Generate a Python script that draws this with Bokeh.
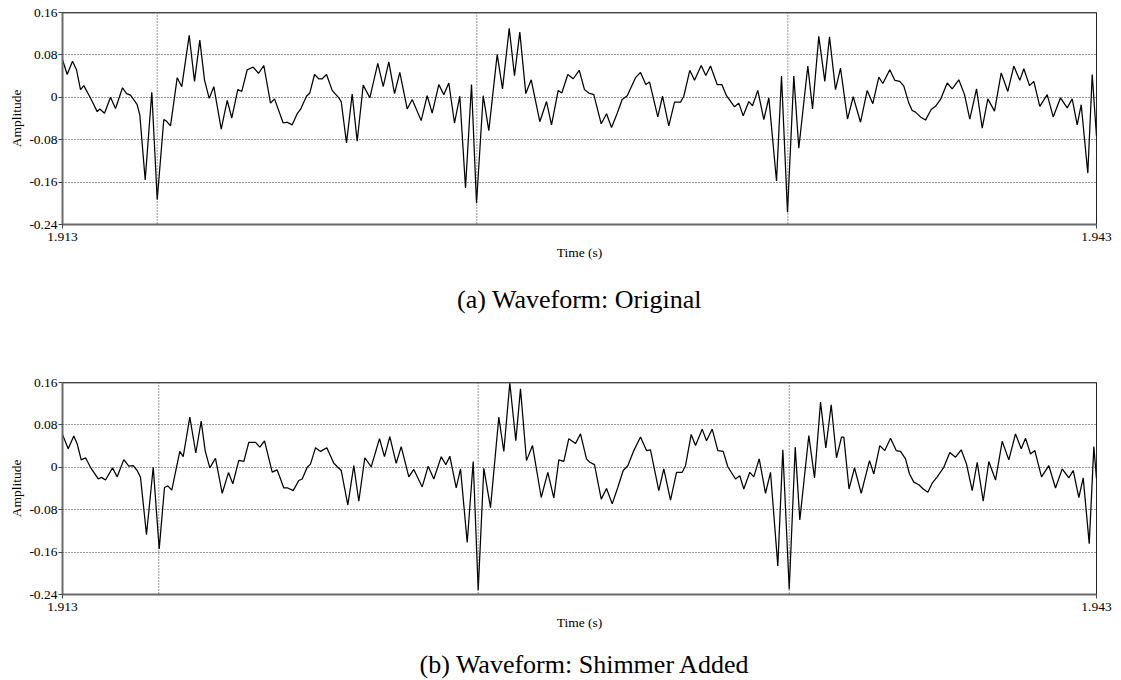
from bokeh.plotting import figure
from bokeh.models import Range1d, FixedTicker, Span, Title, Div
from bokeh.layouts import column
from bokeh.embed import file_html
from bokeh.resources import INLINE

# ---- data: time offsets in ms after 1.913 s, amplitudes ----
t_start = 1.913
t_end = 1.943

orig_ms = [
    0.000, 0.136, 0.290, 0.406, 0.522, 0.618, 0.734, 0.862, 1.007, 1.082,
    1.219, 1.393, 1.538, 1.741, 1.857, 1.973, 2.167, 2.243, 2.399, 2.591,
    2.748, 2.939, 3.017, 3.134, 3.328, 3.461, 3.676, 3.830, 3.984, 4.120,
    4.256, 4.390, 4.605, 4.779, 4.912, 5.086, 5.202, 5.359, 5.533, 5.687,
    5.841, 6.035, 6.151, 6.403, 6.519, 6.665, 6.810, 6.905, 7.079, 7.175,
    7.312, 7.436, 7.535, 7.660, 7.825, 8.017, 8.086, 8.240, 8.405, 8.550,
    8.725, 8.916, 9.148, 9.305, 9.467, 9.633, 9.787, 10.001, 10.146, 10.407,
    10.581, 10.726, 10.918, 11.063, 11.208, 11.373, 11.527, 11.693, 11.867, 12.012,
    12.206, 12.369, 12.612, 12.766, 12.961, 13.114, 13.268, 13.442, 13.599, 13.848,
    14.043, 14.188, 14.382, 14.487, 14.661, 14.818, 14.992, 15.145, 15.270, 15.415,
    15.630, 15.784, 15.929, 16.094, 16.239, 16.384, 16.625, 16.770, 16.924, 17.031,
    17.272, 17.408, 17.591, 17.757, 17.931, 18.026, 18.200, 18.337, 18.531, 18.665,
    18.801, 18.995, 19.129, 19.265, 19.497, 19.622, 19.750, 19.913, 20.020, 20.173,
    20.348, 20.493, 20.716, 20.861, 21.035, 21.218, 21.363, 21.624, 21.761, 21.943,
    22.117, 22.254, 22.428, 22.573, 22.776, 22.941, 23.153, 23.348, 23.510, 23.684,
    23.800, 24.003, 24.148, 24.294, 24.410, 24.555, 24.653, 24.749, 24.894, 25.039,
    25.204, 25.329, 25.474, 25.669, 25.813, 26.005, 26.171, 26.324, 26.519, 26.684,
    26.847, 27.041, 27.235, 27.427, 27.601, 27.775, 27.891, 28.057, 28.181, 28.355,
    28.570, 28.744, 28.956, 29.150, 29.295, 29.440, 29.556, 29.748, 29.876, 30.000,
]
orig_amp = [
    0.071, 0.043, 0.068, 0.052, 0.0145, 0.022, 0.008, -0.008, -0.027, -0.022,
    -0.030, 0.000, -0.021, 0.018, 0.007, 0.004, -0.014, -0.033, -0.156, 0.0095,
    -0.193, -0.042, -0.045, -0.054, 0.037, 0.020, 0.117, 0.030, 0.108, 0.033,
    -0.002, 0.020, -0.060, -0.006, -0.039, 0.0145, 0.011, 0.052, 0.057, 0.045,
    0.060, -0.011, -0.003, -0.0485, -0.047, -0.052, -0.031, -0.023, 0.002, 0.008,
    0.043, 0.035, 0.035, 0.043, 0.013, -0.001, -0.008, -0.086, 0.006, -0.083,
    0.023, -0.001, 0.064, 0.020, 0.067, 0.007, 0.047, -0.022, -0.004, -0.044,
    0.003, -0.030, 0.024, 0.005, 0.027, -0.0485, 0.002, -0.171, 0.024, -0.200,
    0.003, -0.063, 0.081, 0.016, 0.130, 0.041, 0.123, 0.007, 0.033, -0.046,
    -0.008, -0.052, 0.013, 0.008, 0.043, 0.035, 0.051, 0.0145, 0.008, 0.005,
    -0.050, -0.031, -0.057, -0.030, -0.004, 0.003, 0.037, 0.047, 0.024, 0.029,
    -0.037, 0.002, -0.054, -0.009, -0.009, 0.002, 0.051, 0.032, 0.060, 0.041,
    0.059, 0.024, 0.024, 0.003, -0.018, -0.011, -0.035, -0.008, -0.016, 0.013,
    -0.042, -0.001, -0.158, 0.040, -0.217, 0.040, -0.096, 0.059, -0.022, 0.115,
    0.030, 0.114, 0.0145, 0.055, -0.041, 0.001, -0.047, 0.013, -0.012, 0.038,
    0.026, 0.052, 0.032, 0.030, 0.021, -0.011, -0.025, -0.028, -0.037, -0.043,
    -0.023, -0.017, -0.004, 0.027, 0.016, 0.033, 0.005, -0.041, 0.016, -0.058,
    -0.003, -0.026, 0.046, 0.011, 0.059, 0.032, 0.054, 0.022, 0.030, -0.017,
    0.005, -0.037, -0.001, -0.020, -0.003, -0.052, -0.014, -0.143, 0.043, -0.074,
]
orig_marks_ms = [2.748, 12.021, 21.044]

shim_ms = [
    0.000, 0.165, 0.328, 0.427, 0.543, 0.667, 0.812, 1.036, 1.132, 1.248,
    1.451, 1.587, 1.779, 1.924, 2.051, 2.167, 2.263, 2.437, 2.632, 2.806,
    2.959, 3.055, 3.171, 3.403, 3.502, 3.694, 3.868, 4.024, 4.140, 4.274,
    4.439, 4.634, 4.816, 4.941, 5.115, 5.260, 5.405, 5.600, 5.725, 5.861,
    6.084, 6.229, 6.421, 6.537, 6.693, 6.856, 6.955, 7.100, 7.195, 7.341,
    7.486, 7.668, 7.872, 8.086, 8.278, 8.452, 8.597, 8.771, 8.957, 9.197,
    9.342, 9.496, 9.682, 9.827, 10.048, 10.193, 10.436, 10.610, 10.773, 10.988,
    11.121, 11.237, 11.423, 11.548, 11.742, 11.916, 12.061, 12.224, 12.418, 12.659,
    12.804, 12.978, 13.152, 13.288, 13.462, 13.637, 13.889, 14.081, 14.255, 14.400,
    14.545, 14.690, 14.884, 15.029, 15.203, 15.299, 15.435, 15.630, 15.784, 15.949,
    16.111, 16.268, 16.402, 16.576, 16.770, 16.944, 17.060, 17.301, 17.446, 17.641,
    17.815, 17.980, 18.076, 18.241, 18.366, 18.560, 18.685, 18.850, 19.013, 19.169,
    19.303, 19.526, 19.651, 19.767, 19.941, 20.057, 20.214, 20.397, 20.542, 20.754,
    20.899, 21.085, 21.259, 21.392, 21.653, 21.819, 21.993, 22.147, 22.303, 22.457,
    22.602, 22.669, 22.820, 22.979, 23.173, 23.414, 23.539, 23.713, 23.858, 24.024,
    24.189, 24.314, 24.459, 24.575, 24.700, 24.845, 24.972, 25.106, 25.233, 25.378,
    25.570, 25.744, 25.910, 26.075, 26.229, 26.394, 26.539, 26.713, 26.876, 27.070,
    27.264, 27.456, 27.650, 27.816, 27.940, 28.086, 28.210, 28.405, 28.617, 28.811,
    29.005, 29.197, 29.324, 29.488, 29.614, 29.789, 29.923, 30.000,
]
shim_amp = [
    0.062, 0.035, 0.059, 0.044, 0.014, 0.018, 0.000, -0.022, -0.019, -0.024,
    -0.001, -0.018, 0.0145, 0.002, 0.003, -0.006, -0.019, -0.127, 0.000, -0.154,
    -0.038, -0.035, -0.043, 0.030, 0.020, 0.0945, 0.027, 0.087, 0.031, -0.001,
    0.017, -0.049, -0.010, -0.031, 0.013, 0.011, 0.047, 0.047, 0.038, 0.050,
    -0.009, -0.005, -0.039, -0.039, -0.044, -0.025, -0.022, 0.000, 0.006, 0.037,
    0.030, 0.037, 0.0076, -0.006, -0.071, 0.003, -0.064, 0.018, 0.001, 0.054,
    0.020, 0.058, 0.0076, 0.039, -0.018, -0.004, -0.037, 0.002, -0.022, 0.020,
    0.005, 0.021, -0.039, -0.003, -0.142, 0.011, -0.232, -0.002, -0.076, 0.0945,
    0.030, 0.159, 0.050, 0.148, 0.0126, 0.041, -0.057, -0.0095, -0.058, 0.014,
    0.011, 0.054, 0.045, 0.063, 0.016, 0.0095, 0.005, -0.060, -0.040, -0.069,
    -0.038, -0.006, 0.003, 0.0315, 0.057, 0.0315, 0.033, -0.044, -0.003, -0.062,
    -0.0095, -0.0095, 0.003, 0.062, 0.041, 0.072, 0.050, 0.072, 0.0315, 0.030,
    0.001, -0.022, -0.016, -0.041, -0.0095, -0.018, 0.016, -0.049, -0.0095, -0.186,
    0.033, -0.230, 0.038, -0.0995, 0.060, -0.020, 0.123, 0.0365, 0.118, 0.018,
    0.057, 0.057, -0.041, -0.001, -0.049, 0.0126, -0.0126, 0.041, 0.0315, 0.055,
    0.0315, 0.030, 0.016, -0.0126, -0.028, -0.033, -0.041, -0.047, -0.030, -0.018,
    0.000, 0.028, 0.019, 0.033, 0.006, -0.044, 0.0095, -0.064, 0.011, -0.024,
    0.049, 0.014, 0.063, 0.035, 0.055, 0.025, 0.0315, -0.018, 0.003, -0.039,
    -0.003, -0.020, -0.006, -0.057, -0.020, -0.144, 0.039, -0.022,
]
shim_marks_ms = [2.794, 12.061, 21.085]

y_ticks = [-0.24, -0.16, -0.08, 0.0, 0.08, 0.16]
y_labels = ["-0.24", "-0.16", "-0.08", "0", "0.08", "0.16"]
x_ticks = [t_start, t_end]
x_labels = ["1.913", "1.943"]
captions = ["(a) Waveform: Original", "(b) Waveform: Shimmer Added"]

assert len(orig_ms) == len(orig_amp)
assert len(shim_ms) == len(shim_amp)

FONT = "Liberation Serif"
W = 1115


def make_fig(ms, amp, marks_ms, height, border_bottom):
    p = figure(width=W, height=height, output_backend="svg", toolbar_location=None,
               x_range=Range1d(t_start, t_end), y_range=Range1d(-0.24, 0.16),
               min_border_left=62, min_border_right=W - 1096, min_border_top=12,
               min_border_bottom=border_bottom)
    p.background_fill_color = "white"
    p.border_fill_color = "white"
    p.outline_line_color = "#222222"
    p.outline_line_width = 1

    t = [t_start + m / 1000.0 for m in ms]
    p.line(t, amp, line_color="black", line_width=1.25)

    for m in marks_ms:
        p.add_layout(Span(location=t_start + m / 1000.0, dimension="height",
                          line_color="#333333", line_width=1, line_dash="1 2"))
    p.add_layout(Span(location=0.16, dimension="width", line_color="#6a6a6a",
                      line_width=2))

    p.xgrid.visible = False
    p.ygrid.grid_line_color = "#333333"
    p.ygrid.grid_line_dash = "1 2"
    p.ygrid.grid_line_width = 1

    p.yaxis.ticker = FixedTicker(ticks=y_ticks)
    p.yaxis.major_label_overrides = dict(zip(y_ticks, y_labels))
    p.xaxis.ticker = FixedTicker(ticks=x_ticks)
    p.xaxis.major_label_overrides = dict(zip(x_ticks, x_labels))
    p.xaxis.axis_label = "Time (s)"
    p.yaxis.axis_label = "Amplitude"

    for ax in (p.xaxis[0], p.yaxis[0]):
        ax.axis_line_color = "#6a6a6a"
        ax.axis_line_width = 2
        ax.major_tick_line_color = "#444444"
        ax.major_tick_in = 0
        ax.major_tick_out = 4
        ax.minor_tick_in = 0
        ax.minor_tick_out = 0
        ax.major_label_text_font = FONT
        ax.major_label_text_font_size = "13.5px"
        ax.major_label_text_color = "black"
        ax.axis_label_text_font = FONT
        ax.axis_label_text_font_size = "13.5px"
        ax.axis_label_text_font_style = "normal"
        ax.axis_label_text_color = "black"
    p.yaxis.major_label_standoff = 1
    p.yaxis.axis_label_standoff = 2
    p.xaxis.major_label_standoff = 4
    p.xaxis.axis_label_standoff = 1
    return p


p1 = make_fig(orig_ms, orig_amp, orig_marks_ms, 370, 146)
p1.add_layout(Title(text=captions[0], align="center", text_font=FONT,
                    text_font_size="26px", text_font_style="normal",
                    text_color="black", standoff=41), "below")

p2 = make_fig(shim_ms, shim_amp, shim_marks_ms, 264, 40)

cap2_html = ('<div style="width:1034px; margin-left:62px; padding-top:12px; '
             'text-align:center; font-family:\'Liberation Serif\', serif; '
             'font-size:26px; line-height:28px; color:black; '
             'white-space:nowrap;">%s</div>' % captions[1])
c2 = Div(text=cap2_html, width=W, height=46,
         styles={"font-family": "'Liberation Serif', serif",
                 "font-size": "26px", "color": "black"})

layout = column(p1, p2, c2, spacing=0)
open("out.html", "w").write(file_html(layout, INLINE))
